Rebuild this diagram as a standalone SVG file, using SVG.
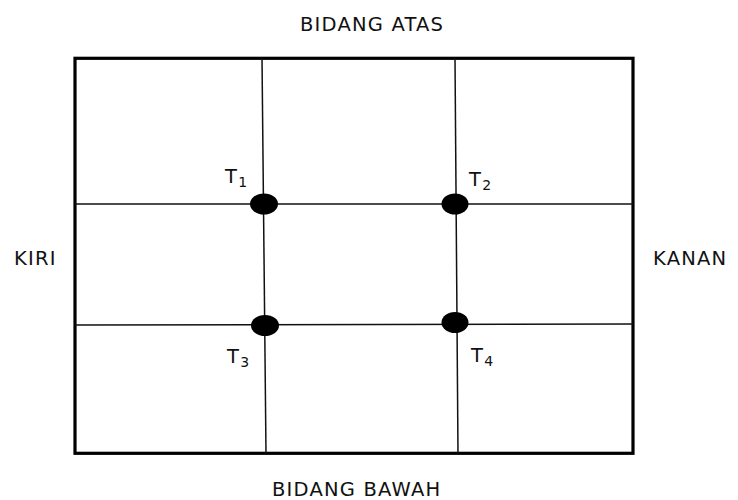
<svg xmlns="http://www.w3.org/2000/svg" width="738" height="500" viewBox="0 0 738 500">
<style>
.t{font-family:"DejaVu Sans","Liberation Sans",sans-serif;font-size:19.5px;letter-spacing:1.2px;fill:#111}
.s{font-size:14px;letter-spacing:0}
.g{stroke:#111;stroke-width:1.5;fill:none}
.d{fill:#000}
</style>
<rect width="738" height="500" fill="#fff"/>
<g id="frame">
<rect x="75" y="58.3" width="558" height="395" fill="none" stroke="#000" stroke-width="3.2"/>
</g>
<g id="connectors">
<line class="g" x1="262" y1="58" x2="266" y2="453"/>
<line class="g" x1="455" y1="58" x2="458" y2="453"/>
<line class="g" x1="75" y1="204" x2="633" y2="204"/>
<line class="g" x1="75" y1="325" x2="633" y2="324"/>
</g>
<g id="T1"><ellipse class="d" cx="264" cy="204" rx="14" ry="10.5"/><text class="t" x="225" y="183">T<tspan class="s" dy="4">1</tspan></text></g>
<g id="T2"><ellipse class="d" cx="455" cy="204" rx="13.5" ry="10.5"/><text class="t" x="469" y="186">T<tspan class="s" dy="4">2</tspan></text></g>
<g id="T3"><ellipse class="d" cx="265" cy="325.5" rx="14" ry="10.5"/><text class="t" x="227" y="363">T<tspan class="s" dy="4">3</tspan></text></g>
<g id="T4"><ellipse class="d" cx="455" cy="322.5" rx="13.5" ry="10.5"/><text class="t" x="471" y="361.5">T<tspan class="s" dy="4">4</tspan></text></g>
<g id="atas"><text class="t" x="300" y="31">BIDANG ATAS</text></g>
<g id="bawah"><text class="t" x="272" y="495.5">BIDANG BAWAH</text></g>
<g id="kiri"><text class="t" x="14" y="265">KIRI</text></g>
<g id="kanan"><text class="t" x="653" y="265">KANAN</text></g>
</svg>
